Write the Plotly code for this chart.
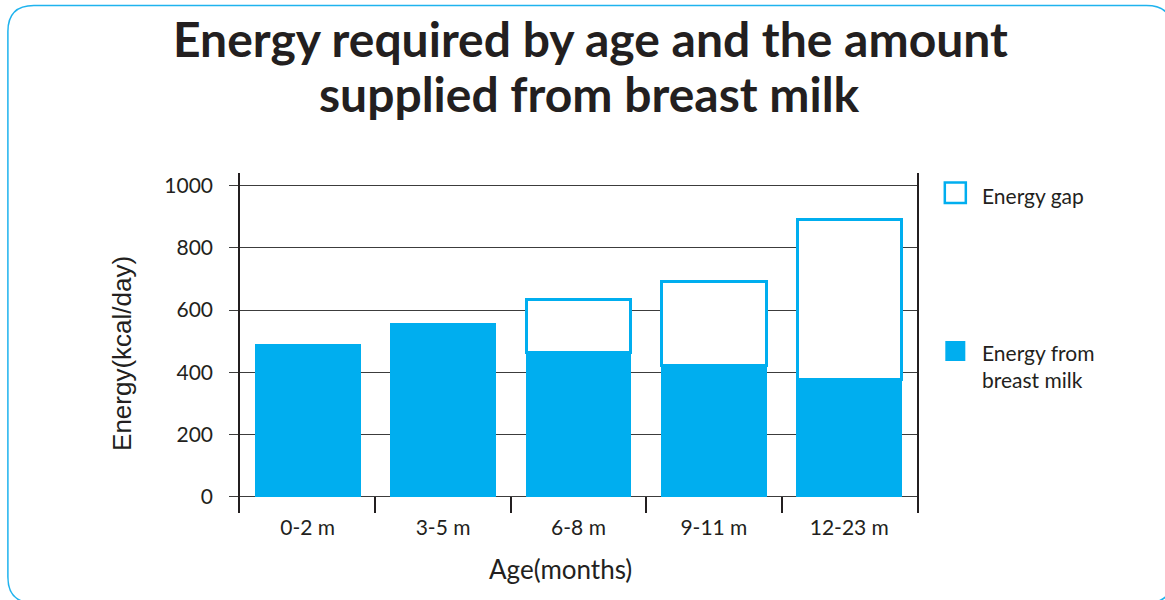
import plotly.graph_objects as go

# Age groups and daily energy values (kcal/day)
age_groups = ["0-2 m", "3-5 m", "6-8 m", "9-11 m", "12-23 m"]
energy_required = [490, 555, 635, 692, 890]
energy_from_breast_milk = [490, 555, 465, 423, 378]

y_ticks = [0, 200, 400, 600, 800, 1000]

title_lines = ["Energy required by age and the amount", "supplied from breast milk"]

# The gap is whatever breast milk does not cover (nothing to draw when it is zero)
energy_gap = [r - b if r - b > 0 else None
              for r, b in zip(energy_required, energy_from_breast_milk)]

BLUE = "#00AEEF"
INK = "#231F20"
GRID = "#3c3c3c"
FONT = "Lato"

W, H = 1165, 600
L, R, T, B = 240, 248.3, 173, 87
PW, PH = W - L - R, H - T - B


def px(x):
    """Pixel x -> paper x."""
    return (x - L) / PW


def py(y):
    """Pixel y (from top) -> paper y."""
    return (H - B - y) / PH


fig = go.Figure()
fig.add_trace(go.Bar(
    x=age_groups, y=energy_from_breast_milk, name="Energy from breast milk",
    marker=dict(color=BLUE, line=dict(color=BLUE, width=1.5)), showlegend=False,
))
fig.add_trace(go.Bar(
    x=age_groups, y=energy_gap, name="Energy gap",
    marker=dict(color="white", line=dict(color=BLUE, width=3)), showlegend=False,
))

# Rounded frame around the whole graphic (runs off the right and bottom edges)
x0, x1, y0, y1, r = 8, 1172, 5.5, 603, 26
frame = (
    f"M {px(x0)},{py(y0 + r)} "
    f"Q {px(x0)},{py(y0)} {px(x0 + r)},{py(y0)} "
    f"L {px(x1 - r)},{py(y0)} "
    f"Q {px(x1)},{py(y0)} {px(x1)},{py(y0 + r)} "
    f"L {px(x1)},{py(y1 - r)} "
    f"Q {px(x1)},{py(y1)} {px(x1 - r)},{py(y1)} "
    f"L {px(x0 + r)},{py(y1)} "
    f"Q {px(x0)},{py(y1)} {px(x0)},{py(y1 - r)} Z"
)

shapes = [
    dict(type="path", xref="paper", yref="paper", path=frame,
         line=dict(color="#1FB3EE", width=1.5), fillcolor="rgba(0,0,0,0)", layer="below"),
    # legend keys
    dict(type="rect", xref="paper", yref="paper",
         x0=px(944.5), x1=px(965.5), y0=py(203), y1=py(182.5),
         line=dict(color=BLUE, width=2.5), fillcolor="white"),
    dict(type="rect", xref="paper", yref="paper",
         x0=px(945), x1=px(965), y0=py(361), y1=py(341),
         line=dict(width=0), fillcolor=BLUE),
]

annotations = [
    # two-line heading
    dict(text=f"<b>{title_lines[0]}</b>", xref="paper", yref="paper", x=px(590), y=py(38),
         xanchor="center", yanchor="middle", showarrow=False,
         font=dict(family=FONT, size=48, color=INK)),
    dict(text=f"<b>{title_lines[1]}</b>", xref="paper", yref="paper", x=px(589), y=py(94),
         xanchor="center", yanchor="middle", showarrow=False,
         font=dict(family=FONT, size=48, color=INK)),
    # legend labels
    dict(text="Energy gap", xref="paper", yref="paper", x=px(980), y=py(195),
         xanchor="left", yanchor="middle", showarrow=False, align="left",
         font=dict(family=FONT, size=21, color=INK)),
    dict(text="Energy from<br>breast milk", xref="paper", yref="paper", x=px(980), y=py(366),
         xanchor="left", yanchor="middle", showarrow=False, align="left",
         font=dict(family=FONT, size=21, color=INK)),
    # axis titles
    dict(text="Energy(kcal/day)", xref="paper", yref="paper", x=px(122), y=py(353),
         xanchor="center", yanchor="middle", textangle=-90, showarrow=False,
         font=dict(family="Liberation Sans, Arial", size=26, color=INK)),
    dict(text="Age(months)", xref="paper", yref="paper", x=px(560), y=py(569),
         xanchor="center", yanchor="middle", showarrow=False,
         font=dict(family=FONT, size=26, color=INK)),
]

fig.update_layout(
    width=W, height=H,
    margin=dict(l=L, r=R, t=T, b=B),
    paper_bgcolor="white", plot_bgcolor="white",
    barmode="stack", bargap=0.23,
    shapes=shapes,
    annotations=annotations,
    showlegend=False,
)

fig.update_xaxes(
    type="category", range=[-0.5, 4.5],
    showline=False, showgrid=False, zeroline=False,
    ticks="inside", tickson="boundaries", ticklen=16, tickwidth=1.5, tickcolor=INK,
    tickfont=dict(family=FONT, size=21, color=INK),
)
fig.update_yaxes(
    range=[-52.4, 1040.8], tickvals=y_ticks,
    showline=True, linecolor=INK, linewidth=1.5, mirror=True,
    showgrid=True, gridcolor=GRID, gridwidth=1.2, zeroline=False,
    ticks="outside", ticklen=9, tickwidth=1.2, tickcolor=GRID,
    ticklabelstandoff=12,
    tickfont=dict(family=FONT, size=21, color=INK),
)

fig.write_html("out.html")
